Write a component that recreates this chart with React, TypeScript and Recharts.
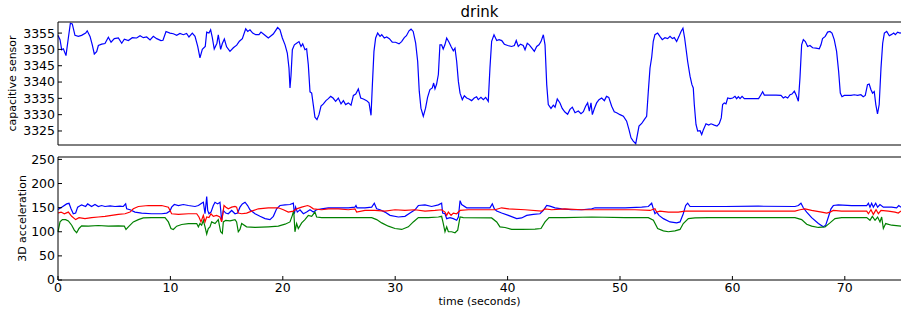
import { LineChart, Line, XAxis, YAxis } from "recharts"

// capacitive sensor (top panel)
const capTime = [
  0, 0.18, 0.33, 0.48, 0.71, 0.92, 1.1, 1.27, 1.51, 1.81, 2.1, 2.46, 2.6, 2.85, 3.05, 3.23, 3.44, 3.59, 3.89, 4.18,
  4.48, 4.72, 5.01, 5.37, 5.67, 5.9, 6.26, 6.61, 7.0, 7.3, 7.59, 7.89, 8.19, 8.48, 8.78, 9.16, 9.34, 9.61, 9.96, 10.26,
  10.56, 10.85, 11.15, 11.44, 11.65, 11.95, 12.19, 12.43, 12.63, 12.84, 13.1, 13.23, 13.43, 13.58, 13.73, 13.9, 14.14, 14.26, 14.47, 14.62,
  14.8, 15.0, 15.3, 15.6, 15.9, 16.14, 16.4, 16.7, 16.88, 17.08, 17.32, 17.59, 17.88, 18.06, 18.36, 18.71, 19.15, 19.54, 19.75, 19.96,
  20.2, 20.4, 20.55, 20.64, 20.73, 20.85, 21.03, 21.23, 21.44, 21.62, 21.77, 21.97, 22.12, 22.27, 22.42, 22.57, 22.71, 22.86, 23.04, 23.22,
  23.4, 23.61, 23.84, 24.05, 24.26, 24.47, 24.7, 24.94, 25.18, 25.39, 25.59, 25.83, 26.07, 26.28, 26.49, 26.72, 26.93, 27.17, 27.46, 27.67,
  27.85, 27.97, 28.11, 28.26, 28.44, 28.65, 28.8, 29.03, 29.24, 29.48, 29.74, 30.03, 30.34, 30.57, 30.81, 31.0, 31.23, 31.41, 31.6, 31.82,
  32.0, 32.14, 32.29, 32.5, 32.7, 32.88, 33.09, 33.3, 33.42, 33.54, 33.68, 33.84, 33.98, 34.13, 34.27, 34.42, 34.58, 34.79, 34.97, 35.17,
  35.32, 35.47, 35.62, 35.77, 35.97, 36.15, 36.36, 36.56, 36.8, 37.03, 37.24, 37.39, 37.63, 37.84, 38.05, 38.28, 38.43, 38.58, 38.79, 39.03,
  39.24, 39.48, 39.71, 40.01, 40.36, 40.6, 40.77, 40.95, 41.15, 41.39, 41.55, 41.75, 41.93, 42.14, 42.38, 42.59, 42.79, 42.97, 43.18, 43.33,
  43.48, 43.62, 43.86, 44.07, 44.22, 44.42, 44.66, 44.86, 45.1, 45.34, 45.55, 45.76, 46.0, 46.29, 46.53, 46.74, 46.94, 47.12, 47.27, 47.42,
  47.54, 47.72, 47.92, 48.13, 48.37, 48.61, 48.8, 49.0, 49.26, 49.49, 49.7, 50.0, 50.3, 50.59, 50.8, 50.98, 51.18, 51.4, 51.55, 51.69,
  51.93, 52.16, 52.37, 52.52, 52.67, 52.82, 52.96, 53.11, 53.35, 53.55, 53.76, 54.0, 54.24, 54.45, 54.66, 54.83, 55.04, 55.25, 55.43, 55.6,
  55.75, 55.9, 56.02, 56.23, 56.4, 56.52, 56.61, 56.76, 56.91, 57.12, 57.27, 57.42, 57.65, 57.89, 58.1, 58.39, 58.63, 58.83, 59.01, 59.13,
  59.28, 59.43, 59.58, 59.79, 60.03, 60.23, 60.38, 60.53, 60.68, 60.86, 61.06, 61.5, 61.95, 62.33, 62.54, 62.69, 62.84, 63.28, 63.88, 64.32,
  64.53, 64.71, 64.92, 65.13, 65.3, 65.51, 65.66, 65.87, 66.01, 66.16, 66.31, 66.49, 66.69, 66.9, 67.14, 67.44, 67.73, 67.88, 68.02, 68.26,
  68.47, 68.68, 68.86, 69.06, 69.27, 69.45, 69.6, 69.75, 69.95, 70.25, 70.55, 70.84, 71.14, 71.43, 71.64, 71.82, 72.02, 72.17, 72.32, 72.47,
  72.62, 72.76, 72.91, 73.06, 73.22, 73.37, 73.52, 73.73, 73.96, 74.17, 74.35, 74.5, 74.7, 74.91, 75,
]
const capValue = [
  3354.3, 3353, 3349.9, 3350.2, 3348.1, 3353.5, 3358, 3357.8, 3354.3, 3354, 3354.3, 3355, 3355.7, 3354, 3351.4, 3348.6, 3349.3, 3351.2, 3351.6, 3351.8,
  3353.7, 3352.2, 3353.3, 3353.5, 3351.9, 3353.1, 3352.7, 3353.6, 3353.5, 3354.2, 3353.6, 3353.8, 3352.9, 3354, 3353.3, 3352.7, 3352.8, 3355.5, 3355, 3354.8,
  3354.3, 3354.9, 3354.5, 3354.9, 3353.8, 3355, 3354, 3350.9, 3347.4, 3350, 3350.9, 3355.3, 3355, 3356, 3353.6, 3350.1, 3351.9, 3354.5, 3350, 3351.8,
  3353.2, 3350.8, 3349.4, 3350.5, 3351.3, 3352.5, 3353.3, 3356.3, 3355.5, 3356, 3355, 3354.5, 3354.5, 3355.3, 3354.5, 3353.5, 3354.7, 3356.7, 3356, 3353.5,
  3351.4, 3348.9, 3344.3, 3338.2, 3342, 3349.9, 3351.4, 3351.9, 3352.4, 3350.9, 3351.7, 3349.9, 3350.2, 3345.3, 3337, 3336.6, 3333.1, 3329.2, 3328.5, 3330,
  3332.6, 3333.3, 3334.3, 3334.9, 3335.6, 3335.1, 3334.1, 3335.1, 3333.3, 3334.3, 3333.1, 3333.6, 3332.9, 3335.9, 3336.3, 3337.9, 3335.1, 3334.8, 3334.3, 3333.6,
  3329.8, 3339.2, 3349.4, 3353.5, 3355, 3354, 3354.5, 3353.5, 3353.8, 3353.3, 3352.2, 3352.2, 3351.7, 3352.4, 3353.6, 3354.2, 3355.7, 3356.2, 3355.5, 3351.9,
  3346.3, 3337.2, 3332, 3329.5, 3332, 3335.3, 3337.7, 3338.2, 3339.7, 3337.9, 3339.3, 3342.3, 3351.4, 3351.4, 3350.1, 3351.4, 3353.5, 3352.2, 3350.9, 3349.6,
  3350.4, 3346.3, 3340.2, 3336.6, 3334.6, 3335.8, 3335.1, 3334.8, 3334.3, 3335.1, 3335.5, 3334.6, 3335.3, 3334.6, 3335.3, 3334.1, 3344.3, 3352.5, 3354.5, 3352.7,
  3353, 3352.7, 3351.6, 3351.2, 3350.9, 3351.2, 3352.7, 3350.9, 3351.6, 3351.2, 3349.9, 3351.9, 3351.4, 3350.5, 3349.4, 3350.9, 3351.4, 3352.4, 3354.5, 3351.4,
  3339.2, 3333.1, 3331.9, 3332.9, 3332.3, 3334.8, 3333.6, 3331.9, 3330.8, 3330.1, 3331.6, 3332.3, 3330.6, 3331.1, 3330.3, 3330.9, 3332.6, 3333.6, 3331.1, 3333.6,
  3330, 3331.9, 3333.6, 3334.6, 3335.1, 3334.3, 3335.6, 3335.3, 3332.6, 3330.9, 3330.6, 3330, 3329.5, 3328, 3325.4, 3322.9, 3321.9, 3321.1, 3323.9, 3326.5,
  3327.3, 3328.5, 3329.5, 3337.2, 3344.3, 3347.6, 3352.5, 3354.5, 3355, 3354, 3353, 3353.6, 3353.3, 3354, 3353.3, 3353.6, 3352.4, 3354, 3355.5, 3356.5,
  3353.5, 3349.5, 3346.3, 3341.8, 3339.2, 3338.2, 3333.1, 3327, 3325, 3325.1, 3323.9, 3325.4, 3327.2, 3326.8, 3327.2, 3326.8, 3326.5, 3327.2, 3329, 3333.1,
  3333.6, 3333.3, 3335.1, 3334.9, 3335.1, 3335.6, 3334.9, 3335.5, 3334.9, 3335.6, 3334.9, 3334.9, 3334.9, 3334.9, 3336.1, 3337, 3336, 3336, 3336, 3335.9,
  3335.1, 3335.5, 3335.1, 3336.1, 3336.3, 3337.2, 3336.1, 3334.1, 3341.2, 3351.4, 3353, 3352.4, 3350.9, 3351.2, 3350.5, 3350.4, 3350.2, 3351.4, 3353.3, 3354,
  3355.3, 3355.5, 3355, 3353, 3349.4, 3343.3, 3336.6, 3335.5, 3335.9, 3335.9, 3335.9, 3336.1, 3335.9, 3336.1, 3335.5, 3335.9, 3339.2, 3339.4, 3337.7, 3336.6,
  3337.1, 3333.1, 3330.2, 3333.1, 3344.3, 3351.9, 3355, 3355.5, 3354.2, 3354.6, 3355, 3354.5, 3355.3, 3355, 3355.1,
]

// 3D acceleration (bottom panel)
const blueTime = [
  0, 0.33, 0.77, 0.98, 1.16, 1.36, 1.57, 1.75, 2.1, 2.46, 2.64, 2.99, 3.29, 3.59, 3.88, 4.18, 4.63, 5.07, 5.52, 5.81,
  6.02, 6.11, 6.41, 6.85, 7.44, 8.33, 9.22, 9.67, 9.96, 10.11, 10.35, 10.71, 11.15, 11.6, 12.19, 12.49, 12.78, 12.93, 13.08, 13.23,
  13.32, 13.43, 13.61, 13.82, 13.97, 14.2, 14.41, 14.56, 14.71, 14.92, 15.15, 15.45, 15.75, 15.98, 16.19, 16.4, 16.64, 16.87, 17.08, 17.53,
  17.97, 18.42, 18.86, 19.16, 19.45, 19.75, 20.2, 20.64, 20.94, 21.03, 21.14, 21.29, 21.53, 21.83, 22.12, 22.42, 22.72, 23.01, 23.46, 24.05,
  24.94, 25.83, 26.42, 26.51, 26.6, 27.31, 27.91, 28.14, 28.35, 28.65, 29.09, 29.54, 30.28, 30.87, 31.32, 31.76, 32.06, 32.65, 33.24, 33.84,
  34.13, 34.22, 34.43, 34.58, 34.88, 35.17, 35.47, 35.62, 35.77, 35.91, 36.36, 37.54, 38.43, 38.64, 38.82, 39.03, 39.47, 40.07, 40.81, 41.25,
  41.7, 42.29, 42.88, 43.18, 43.48, 43.77, 44.22, 44.81, 45.7, 46.59, 47.48, 47.78, 48.96, 50.45, 51.93, 52.52, 52.82, 52.97, 53.11, 53.26,
  53.47, 53.86, 54.45, 55.04, 55.34, 55.63, 55.84, 56.02, 56.23, 57.27, 59.34, 62.31, 65.57, 65.87, 66.1, 66.31, 66.61, 67.05, 67.65, 68.09,
  68.3, 68.54, 68.77, 68.98, 69.42, 70.61, 71.95, 72.1, 72.24, 72.39, 72.54, 72.75, 72.92, 73.13, 73.43, 74.17, 74.61, 74.8, 75,
]
const blueValue = [
  146, 151, 157.8, 159, 147.6, 137.4, 138.8, 151, 155.8, 152.4, 157.8, 152.4, 156.5, 152.4, 154.4, 152.4, 153.8, 152.4, 153, 152.4,
  157.8, 147.6, 145.6, 140.8, 138.8, 137.4, 137.4, 138.8, 142.9, 151, 156.5, 154.4, 156.5, 154.4, 152.4, 154.4, 159.2, 161.2, 137.4, 172.8,
  144.2, 137.4, 140.8, 154.4, 161.2, 157.8, 161.2, 123.8, 144.2, 138.8, 137.4, 144.2, 137.4, 138.8, 151, 157.8, 161.2, 154.4, 145.6, 137.4,
  132, 127.2, 125.2, 132, 147.6, 154.4, 155.8, 156.5, 159.2, 137.4, 151, 140.8, 145.6, 137.4, 140.8, 145.6, 140.8, 145.6, 147.6, 149.7,
  149.7, 149.7, 151, 154.4, 149.7, 149.7, 151, 159.2, 147.6, 145.6, 140.8, 134, 130.6, 132, 138.8, 145.6, 154.4, 155.8, 152.4, 155.8,
  159.2, 138.8, 137.4, 127.2, 129.3, 127.2, 123.8, 130.6, 164.6, 156.5, 149.7, 149.7, 149.7, 157.8, 147.6, 142.9, 138.8, 134, 127.2, 128.6,
  134, 136, 137.4, 144.2, 154.4, 153, 149.7, 147.6, 145.6, 145.6, 147.6, 149.7, 149.7, 149.7, 151, 152.4, 159.2, 147.6, 137.4, 140.8,
  134, 127.2, 120.4, 118.4, 120.4, 137.4, 154.4, 159.2, 152.4, 152.4, 152.4, 153, 152.4, 154.4, 159.2, 149.7, 140.8, 129.3, 117, 110.2,
  113.6, 130.6, 147.6, 154.4, 155.8, 154.4, 154.4, 159.2, 151, 159.2, 151, 159.2, 151, 156.5, 151, 151, 149.7, 154.4, 151,
]

const redTime = [
  0, 0.27, 0.56, 0.92, 1.22, 1.57, 1.87, 2.4, 2.99, 3.59, 4.18, 4.77, 5.37, 5.96, 6.41, 6.7, 7.15, 8.04, 9.22, 9.82,
  10.11, 10.71, 11.6, 12.34, 12.54, 12.72, 12.93, 13.08, 13.23, 13.43, 13.61, 13.82, 14.11, 14.41, 14.56, 14.77, 14.94, 15.15, 15.45, 15.75,
  15.89, 16.04, 16.34, 16.78, 17.23, 17.82, 18.71, 19.6, 20.05, 20.49, 20.94, 21.23, 21.68, 22.21, 22.42, 22.72, 23.46, 24.05, 24.94, 25.83,
  26.42, 26.57, 27.31, 28.2, 29.09, 29.98, 30.87, 31.76, 32.65, 33.54, 34.13, 34.43, 34.58, 34.73, 34.97, 35.17, 35.47, 35.77, 36.51, 38.88,
  39.47, 40.07, 41.55, 43.03, 43.33, 43.92, 45.1, 46.59, 48.37, 49.85, 51.33, 52.67, 53.11, 53.26, 53.56, 54.3, 55.19, 55.78, 57.27, 60.82,
  65.57, 66.01, 66.46, 67.05, 67.94, 68.39, 68.68, 68.98, 69.72, 71.95, 72.1, 72.33, 72.54, 72.78, 72.99, 73.22, 73.87, 74.47, 74.76, 75,
]
const redValue = [
  139, 140.8, 137.4, 140.8, 132, 125.2, 129.3, 127.2, 129.3, 130.6, 132, 134, 136, 137.4, 140.8, 147.6, 152.4, 154.4, 154.4, 151,
  137.4, 136, 137.4, 137.4, 130.6, 120.4, 134, 120.4, 130.6, 129.3, 137.4, 132, 134, 130.6, 120.4, 154.4, 151, 147.6, 151, 152.4,
  151, 138.8, 137.4, 138.8, 142.9, 147.6, 149.7, 149.7, 145.6, 140.8, 142.9, 147.6, 151, 154.4, 152.4, 147.6, 145.6, 147.6, 147.6, 145.6,
  147.6, 140.8, 144.2, 144.2, 142.9, 145.6, 144.2, 145.6, 142.9, 144.2, 145.6, 140.8, 134, 140.8, 134, 138.8, 137.4, 144.2, 145.6, 145.6,
  149.7, 147.6, 145.6, 142.9, 147.6, 145.6, 147.6, 145.6, 145.6, 145.6, 145.6, 144.2, 147.6, 140.8, 142.9, 140.8, 140.8, 142.9, 142.9, 142.9,
  142.9, 145.6, 147.6, 144.2, 140.8, 138.8, 140.8, 144.2, 142.9, 142.9, 137.4, 145.6, 136, 145.6, 137.4, 144.2, 142.9, 140.8, 138.8, 142.9,
]

const greenTime = [
  0, 0.18, 0.39, 0.68, 0.92, 1.22, 1.45, 1.66, 1.87, 2.1, 2.7, 3.59, 4.48, 5.37, 5.9, 6.05, 6.26, 6.7, 7.15, 7.59,
  8.33, 9.52, 9.82, 10.05, 10.26, 10.56, 11.0, 11.6, 12.34, 12.49, 12.63, 12.78, 12.93, 13.08, 13.23, 13.37, 13.52, 13.67, 13.97, 14.26,
  14.47, 14.62, 14.71, 14.92, 15.3, 15.75, 15.89, 16.04, 16.19, 16.34, 16.78, 17.53, 18.71, 19.6, 20.2, 20.64, 20.85, 20.97, 21.08, 21.23,
  21.38, 21.68, 21.97, 22.27, 22.57, 22.86, 23.01, 23.46, 24.94, 26.42, 27.91, 28.35, 28.8, 29.39, 29.98, 30.58, 31.17, 31.61, 32.06, 32.95,
  33.84, 34.13, 34.28, 34.43, 34.58, 34.73, 35.02, 35.32, 35.56, 35.77, 36.06, 38.58, 39.03, 39.32, 39.77, 40.36, 41.25, 42.44, 42.97, 43.33,
  43.68, 45.1, 47.48, 50.45, 52.52, 52.97, 53.35, 53.86, 54.3, 54.89, 55.34, 55.63, 56.08, 56.67, 57.86, 60.82, 65.57, 66.16, 66.61, 67.05,
  67.65, 68.24, 68.68, 69.13, 69.72, 71.95, 72.24, 72.45, 72.69, 72.92, 73.13, 73.28, 73.43, 73.64, 74.17, 75,
]
const greenValue = [
  100, 120.4, 125.2, 125.2, 122.5, 113.6, 103.4, 98, 106.8, 112.3, 111.6, 113, 111.6, 112.3, 111.6, 104.8, 110.2, 120.4, 125.2, 128.6,
  129.3, 129.3, 120.4, 106.8, 104.8, 111.6, 115, 117, 117, 110.2, 117, 113.6, 123.8, 110.2, 95.3, 106.8, 110.2, 120.4, 117, 125.2,
  100, 96.6, 120.4, 123.8, 122.5, 125.2, 120.4, 100, 104.8, 117, 110.2, 108.9, 110.2, 111.6, 115.7, 120.4, 134, 144.2, 100, 117,
  106.8, 118.4, 125.2, 134, 132, 140.8, 130.6, 129.3, 129.3, 129.3, 129.3, 125.2, 118.4, 111.6, 106.8, 104.8, 110.2, 120.4, 129.3, 129.3,
  130.6, 132, 117, 100, 110.2, 100, 100, 98, 103.4, 130.6, 129.3, 128.6, 120.4, 110.2, 108.9, 104.8, 104.8, 105.5, 106.8, 120.4,
  129.3, 129.3, 130.6, 129.3, 129.3, 123.8, 106.8, 102, 100, 102, 104.8, 117, 127.2, 128.6, 129.3, 129.3, 129.3, 125.2, 115.7, 111.6,
  108.9, 110.2, 118.4, 127.2, 129.3, 129.3, 123.8, 132, 123.8, 130.6, 120.4, 130.6, 106.8, 117, 113.6, 111.6,
]

const timeTicks = [0, 10, 20, 30, 40, 50, 60, 70]
const capTicks = [3325, 3330, 3335, 3340, 3345, 3350, 3355]
const accTicks = [0, 50, 100, 150, 200, 250]

const FONT = '"DejaVu Sans", sans-serif'
const tickStyle = { fontSize: 12.5, fill: "#000", fontFamily: FONT }

const zip = (t: number[], v: number[]) => t.map((x, i) => ({ t: x, v: v[i] }))

const capData = zip(capTime, capValue)
const blueData = zip(blueTime, blueValue)
const redData = zip(redTime, redValue)
const greenData = zip(greenTime, greenValue)

// top spine with inward tick marks, no labels
const topSpine = (
  <XAxis
    xAxisId="top"
    orientation="top"
    dataKey="t"
    type="number"
    domain={[0, 75]}
    ticks={timeTicks}
    interval={0}
    height={1}
    tick={false}
    tickSize={-4}
    stroke="#000"
  />
)

export default function App() {
  return (
    <div
      style={{
        position: "absolute",
        left: 0,
        top: 0,
        width: 901,
        height: 315,
        background: "#fff",
        fontFamily: FONT,
      }}
    >
      <div
        style={{
          position: "absolute",
          left: 58,
          top: 4,
          width: 843,
          textAlign: "center",
          fontSize: 15,
          lineHeight: "16px",
          color: "#000",
        }}
      >
        drink
      </div>

      <div style={{ position: "absolute", left: 0, top: 0 }}>
        <LineChart width={901} height={150} margin={{ top: 21, right: 0, bottom: 0, left: 0 }}>
          <XAxis
            dataKey="t"
            type="number"
            domain={[0, 75]}
            ticks={timeTicks}
            interval={0}
            height={5}
            tick={false}
            tickSize={-4}
            stroke="#000"
          />
          {topSpine}
          <YAxis
            type="number"
            domain={[3320.7, 3358.4]}
            ticks={capTicks}
            interval={0}
            width={58}
            tickSize={-4}
            tickMargin={7}
            stroke="#000"
            tick={tickStyle}
            allowDataOverflow
            label={{
              value: "capacitive sensor",
              angle: -90,
              position: "insideLeft",
              offset: 12,
              style: { textAnchor: "middle", fontSize: 11, fill: "#000", fontFamily: FONT },
            }}
          />
          <Line
            data={capData}
            dataKey="v"
            type="linear"
            stroke="#0000ff"
            strokeWidth={1.2}
            dot={false}
            isAnimationActive={false}
          />
        </LineChart>
      </div>

      <div style={{ position: "absolute", left: 0, top: 150 }}>
        <LineChart width={901} height={165} margin={{ top: 6, right: 0, bottom: 0, left: 0 }}>
          <XAxis
            dataKey="t"
            type="number"
            domain={[0, 75]}
            ticks={timeTicks}
            interval={0}
            height={35}
            tickSize={-4}
            tickMargin={7}
            stroke="#000"
            tick={tickStyle}
            label={{
              value: "time (seconds)",
              position: "insideBottom",
              offset: 10,
              style: { fontSize: 11, fill: "#000", fontFamily: FONT },
            }}
          />
          {topSpine}
          <YAxis
            type="number"
            domain={[0, 255]}
            ticks={accTicks}
            interval={0}
            width={58}
            tickSize={-4}
            tickMargin={7}
            stroke="#000"
            tick={tickStyle}
            allowDataOverflow
            label={{
              value: "3D acceleration",
              angle: -90,
              position: "insideLeft",
              offset: 22,
              style: { textAnchor: "middle", fontSize: 11, fill: "#000", fontFamily: FONT },
            }}
          />
          <Line
            data={blueData}
            dataKey="v"
            type="linear"
            stroke="#0000ff"
            strokeWidth={1.2}
            dot={false}
            isAnimationActive={false}
          />
          <Line
            data={greenData}
            dataKey="v"
            type="linear"
            stroke="#008000"
            strokeWidth={1.2}
            dot={false}
            isAnimationActive={false}
          />
          <Line
            data={redData}
            dataKey="v"
            type="linear"
            stroke="#ff0000"
            strokeWidth={1.2}
            dot={false}
            isAnimationActive={false}
          />
        </LineChart>
      </div>
    </div>
  )
}
